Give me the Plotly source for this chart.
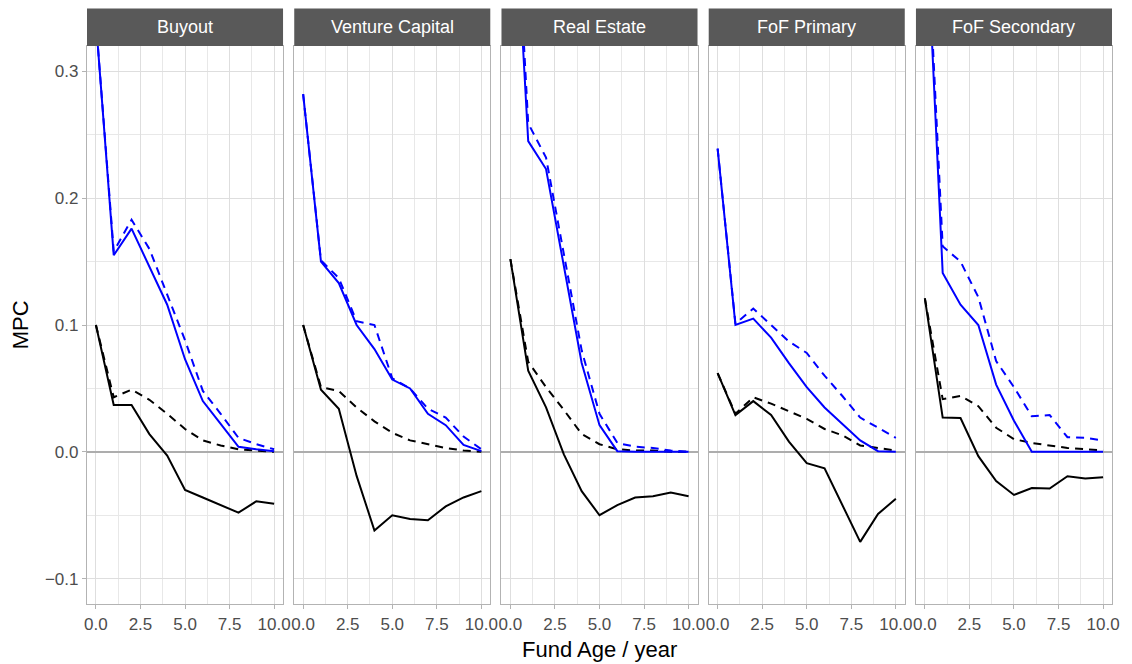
import plotly.graph_objects as go

ages = [0, 1, 2, 3, 4, 5, 6, 7, 8, 9, 10]
panels = ["Buyout", "Venture Capital", "Real Estate", "FoF Primary", "FoF Secondary"]

# Buyout
bo_black_solid = [0.100, 0.037, 0.037, 0.014, -0.003, -0.030, -0.036, -0.042, -0.048, -0.039, -0.041]
bo_black_dash = [0.100, 0.043, 0.049, 0.041, 0.030, 0.018, 0.009, 0.005, 0.002, 0.001, 0.000]
bo_blue_solid = [0.340, 0.155, 0.176, 0.146, 0.116, 0.073, 0.040, 0.022, 0.004, 0.002, 0.0005]
bo_blue_dash = [0.340, 0.158, 0.183, 0.160, 0.124, 0.088, 0.048, 0.030, 0.011, 0.006, 0.002]

# Venture Capital
vc_black_solid = [0.100, 0.049, 0.034, -0.019, -0.062, -0.050, -0.053, -0.054, -0.043, -0.036, -0.031]
vc_black_dash = [0.100, 0.051, 0.048, 0.035, 0.024, 0.015, 0.009, 0.006, 0.003, 0.001, 0.000]
vc_blue_solid = [0.282, 0.150, 0.133, 0.100, 0.081, 0.057, 0.050, 0.030, 0.021, 0.0055, 0.0005]
vc_blue_dash = [0.282, 0.151, 0.137, 0.103, 0.100, 0.058, 0.050, 0.034, 0.027, 0.012, 0.002]

# Real Estate
re_black_solid = [0.152, 0.064, 0.035, -0.002, -0.031, -0.050, -0.042, -0.036, -0.035, -0.032, -0.035]
re_black_dash = [0.152, 0.071, 0.051, 0.033, 0.014, 0.006, 0.002, 0.001, 0.001, 0.000, 0.000]
re_blue_solid = [0.500, 0.245, 0.223, 0.147, 0.070, 0.021, 0.0005, 0.000, 0.000, 0.000, 0.000]
re_blue_dash = [0.520, 0.259, 0.232, 0.155, 0.080, 0.030, 0.007, 0.004, 0.003, 0.001, 0.000]

# FoF Primary
fp_black_solid = [0.062, 0.029, 0.040, 0.029, 0.008, -0.009, -0.013, -0.042, -0.071, -0.049, -0.037]
fp_black_dash = [0.062, 0.030, 0.043, 0.038, 0.032, 0.026, 0.018, 0.013, 0.005, 0.003, 0.001]
fp_blue_solid = [0.239, 0.100, 0.105, 0.090, 0.070, 0.051, 0.035, 0.022, 0.009, 0.0005, 0.000]
fp_blue_dash = [0.239, 0.101, 0.113, 0.100, 0.087, 0.078, 0.060, 0.044, 0.027, 0.019, 0.011]

# FoF Secondary
fs_black_solid = [0.121, 0.027, 0.0266, -0.0034, -0.023, -0.034, -0.0285, -0.029, -0.0193, -0.021, -0.020]
fs_black_dash = [0.121, 0.0415, 0.044, 0.036, 0.019, 0.010, 0.007, 0.005, 0.003, 0.002, 0.001]
fs_blue_solid = [0.445, 0.141, 0.116, 0.100, 0.053, 0.0245, 0.000, 0.000, 0.000, 0.000, 0.000]
fs_blue_dash = [0.450, 0.162, 0.150, 0.122, 0.0715, 0.051, 0.028, 0.029, 0.0115, 0.011, 0.009]

series = [
    (bo_black_solid, bo_black_dash, bo_blue_solid, bo_blue_dash),
    (vc_black_solid, vc_black_dash, vc_blue_solid, vc_blue_dash),
    (re_black_solid, re_black_dash, re_blue_solid, re_blue_dash),
    (fp_black_solid, fp_black_dash, fp_blue_solid, fp_blue_dash),
    (fs_black_solid, fs_black_dash, fs_blue_solid, fs_blue_dash),
]

W, H = 1132, 664
ML, MR, MT, MB = 87, 15, 46, 60
pw = W - ML - MR
ph = H - MT - MB
panel_w = 197 / pw
step = 208.25 / pw
strip_h = 37.5 / ph

FONT = "Liberation Sans, Arial, sans-serif"
fig = go.Figure()
styles = [("black", "solid"), ("black", "8px,6px"), ("blue", "solid"), ("blue", "8px,6px")]

layout = dict(
    width=W, height=H,
    margin=dict(l=ML, r=MR, t=MT, b=MB),
    paper_bgcolor="white", plot_bgcolor="white",
    showlegend=False,
    font=dict(family=FONT, color="#4D4D4D", size=17),
)
shapes = []
annotations = []
for i, (name, data) in enumerate(zip(panels, series)):
    k = "" if i == 0 else str(i + 1)
    x0 = i * step
    x1 = x0 + panel_w
    for (vals, (col, dash)) in zip(data, styles):
        fig.add_trace(go.Scatter(
            x=ages, y=vals, mode="lines",
            line=dict(color=col, width=2, dash=dash),
            xaxis="x" + k, yaxis="y" + k, hoverinfo="skip"))
    layout["xaxis" + k] = dict(
        domain=[x0, x1], anchor="y" + k, range=[-0.5, 10.5],
        tickvals=[0, 2.5, 5, 7.5, 10], ticktext=["0.0", "2.5", "5.0", "7.5", "10.0"],
        ticks="outside", ticklen=4, tickcolor="#B3B3B3", tickwidth=1,
        showgrid=True, gridcolor="#DEDEDE", gridwidth=1,
        minor=dict(tick0=0, dtick=1.25, showgrid=True, gridcolor="#E8E8E8", gridwidth=0.7),
        zeroline=False, showline=True, mirror=True, linecolor="#B3B3B3", linewidth=1.2,
        tickfont=dict(size=17, color="#4D4D4D"),
    )
    ydict = dict(
        domain=[0, 1], anchor="x" + k, range=[-0.12, 0.32],
        tickvals=[-0.1, 0, 0.1, 0.2, 0.3],
        showgrid=True, gridcolor="#DEDEDE", gridwidth=1,
        minor=dict(tick0=0, dtick=0.05, showgrid=True, gridcolor="#E8E8E8", gridwidth=0.7),
        zeroline=True, zerolinecolor="#ADADAD", zerolinewidth=2,
        showline=True, mirror=True, linecolor="#B3B3B3", linewidth=1.2,
        tickfont=dict(size=17, color="#4D4D4D"),
    )
    if i == 0:
        ydict.update(ticks="outside", ticklen=4, tickcolor="#B3B3B3", tickwidth=1,
                     ticktext=["\u22120.1", "0.0", "0.1", "0.2", "0.3"])
    else:
        ydict.update(showticklabels=False, ticks="")
    layout["yaxis" + k] = ydict
    shapes.append(dict(type="rect", xref="paper", yref="paper",
                       x0=x0, x1=x1, y0=1, y1=1 + strip_h,
                       fillcolor="#595959", line=dict(width=0)))
    annotations.append(dict(text=name, xref="paper", yref="paper",
                            x=(x0 + x1) / 2, y=1 + strip_h / 2,
                            xanchor="center", yanchor="middle", showarrow=False,
                            font=dict(family=FONT, size=18, color="white")))

annotations.append(dict(text="Fund Age / year", xref="paper", yref="paper",
                        x=0.5, y=-45 / ph, xanchor="center", yanchor="middle",
                        showarrow=False, font=dict(family=FONT, size=22, color="black")))
annotations.append(dict(text="MPC", xref="paper", yref="paper",
                        x=-67 / pw, y=0.5, xanchor="center", yanchor="middle",
                        textangle=-90, showarrow=False,
                        font=dict(family=FONT, size=22, color="black")))
layout["shapes"] = shapes
layout["annotations"] = annotations
fig.update_layout(**layout)
fig.write_html("out.html")
